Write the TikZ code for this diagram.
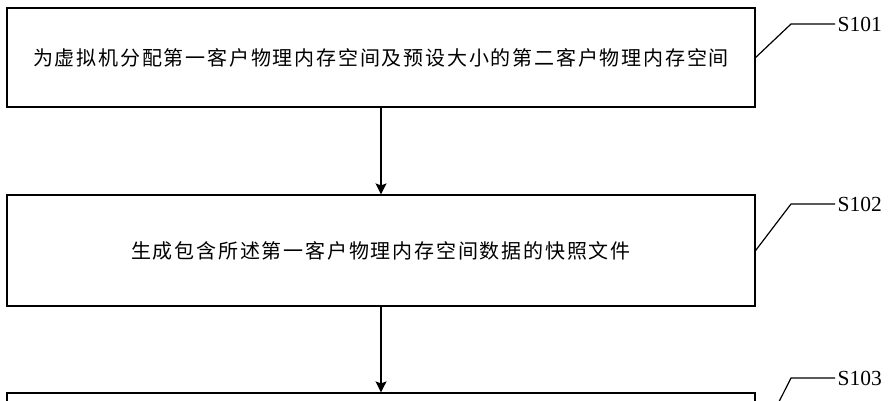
\documentclass[tikz,border=0pt]{standalone}
\usepackage{fontspec}
\setmainfont{Liberation Serif}
\newfontfamily\cjk[LetterSpace=9]{Noto Sans CJK SC}
\usetikzlibrary{arrows.meta}

\begin{document}
\begin{tikzpicture}[x=1pt,y=-1pt,line width=1.2pt,
    >={Stealth[length=11pt,width=11pt,inset=2pt]},
    stepbox/.style={draw,minimum width=748pt,inner sep=0pt,font=\cjk\fontsize{20}{20}\selectfont},
    tag/.style={font=\fontsize{21.5}{22}\selectfont,inner sep=2pt,anchor=west}]
    \useasboundingbox (0,0) rectangle (890,400);
    \clip (0,0) rectangle (890,400);
    \node[stepbox,minimum height=99pt] (B1) at (381,57.5) {为虚拟机分配第一客户物理内存空间及预设大小的第二客户物理内存空间};
    \node[stepbox,minimum height=111pt] (B2) at (381,250.5) {生成包含所述第一客户物理内存空间数据的快照文件};
    \node[stepbox,minimum height=110pt] (B3) at (381,448) {};
    \draw[->] (B1) -- (B2);
    \draw[->] (B2) -- (B3);
    \node[tag] (L1) at (835,24) {S101};
    \node[tag] (L2) at (835,204) {S102};
    \node[tag] (L3) at (835,378) {S103};
    \coordinate (K1) at (791,24);
    \coordinate (K2) at (791,204);
    \coordinate (K3) at (791,378);
    \draw (B1.east) -- (K1) -- (L1.west);
    \draw (B2.east) -- (K2) -- (L2.west);
    \draw (B3.east) -- (K3) -- (L3.west);
\end{tikzpicture}
\end{document}
